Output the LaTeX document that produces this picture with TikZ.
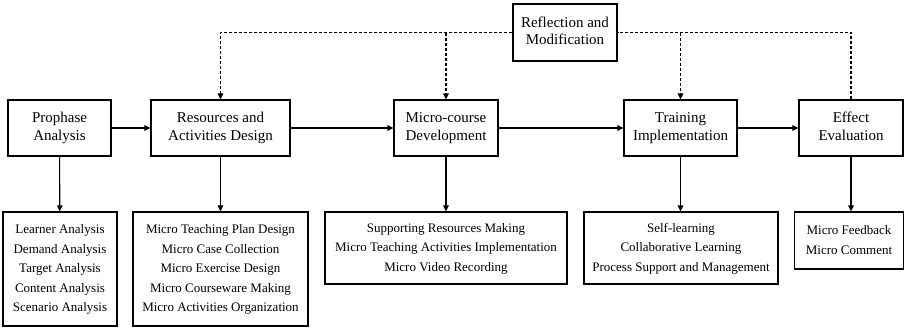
\documentclass[tikz,border=0pt]{standalone}
\usepackage{fontspec}
\setmainfont{Liberation Serif}
\usetikzlibrary{arrows.meta}
\tikzset{
	stage/.style={draw, inner sep=0, minimum height=56pt, font=\fontsize{15}{17.7}\selectfont},
	tasks/.style={draw, inner sep=0, font=\fontsize{13}{19.5}\selectfont},
	fb/.style={dash pattern=on 3pt off 2pt}
}

\begin{document}
\begin{tikzpicture}[->,>={Triangle[length=6pt,width=5.5pt]},line width=1.1pt,x=1pt,y=-1pt]
\useasboundingbox (0,0) rectangle (905,327);
% stages
\node[stage, minimum width=103pt] (prophase) at (59.5,128) {\begin{tabular}{c} Prophase \\ Analysis \end{tabular}};
\node[stage, minimum width=139pt] (resdesign) at (220.5,128) {\begin{tabular}{c} Resources and \\ Activities Design \end{tabular}};
\node[stage, minimum width=104pt] (microdev) at (446,128) {\begin{tabular}{c} Micro-course \\ Development \end{tabular}};
\node[stage, minimum width=113pt] (training) at (680.5,128) {\begin{tabular}{c} Training \\ Implementation \end{tabular}};
\node[stage, minimum width=104pt] (effect) at (851,128) {\begin{tabular}{c} Effect \\ Evaluation \end{tabular}};
\node[stage, minimum width=104pt, minimum height=57pt] (reflect) at (565,32.5) {\begin{tabular}{c} Reflection and \\ Modification \end{tabular}};
% task lists
\node[tasks, minimum width=114pt, minimum height=114pt] (prophase_l) at (60,269) {\begin{tabular}{c}
Learner Analysis \\ Demand Analysis \\ Target Analysis \\ Content Analysis \\ Scenario Analysis
\end{tabular}};
\node[tasks, minimum width=175pt, minimum height=114pt] (resdesign_l) at (220.5,269) {\begin{tabular}{c}
Micro Teaching Plan Design \\ Micro Case Collection \\ Micro Exercise Design \\ Micro Courseware Making \\ Micro Activities Organization
\end{tabular}};
\node[tasks, minimum width=242pt, minimum height=72pt] (microdev_l) at (446,248) {\begin{tabular}{c}
Supporting Resources Making \\ Micro Teaching Activities Implementation \\ Micro Video Recording
\end{tabular}};
\node[tasks, minimum width=194pt, minimum height=72pt] (training_l) at (681,248) {\begin{tabular}{c}
Self-learning \\ Collaborative Learning \\ Process Support and Management
\end{tabular}};
\node[tasks, minimum width=109pt, minimum height=57pt] (effect_l) at (849,240.5) {\begin{tabular}{c}
Micro Feedback \\ Micro Comment
\end{tabular}};
% main flow
\path (prophase) edge (resdesign);
\path (resdesign) edge (microdev);
\path (microdev) edge (training);
\path (training) edge (effect);
\path (prophase) edge (prophase_l);
\path (resdesign) edge (resdesign_l);
\path (microdev) edge (microdev_l);
\path (training.south) edge (training.south |- training_l.north);
\path (effect.south) edge (effect.south |- effect_l.north);
% feedback
\draw[fb,-] (effect.north) |- (reflect.east);
\draw[fb] (reflect.east -| training.north) -- (training.north);
\draw[fb] (reflect.west) -| (resdesign.north);
\draw[fb] (reflect.west -| microdev.north) -- (microdev.north);
\end{tikzpicture}
\end{document}
